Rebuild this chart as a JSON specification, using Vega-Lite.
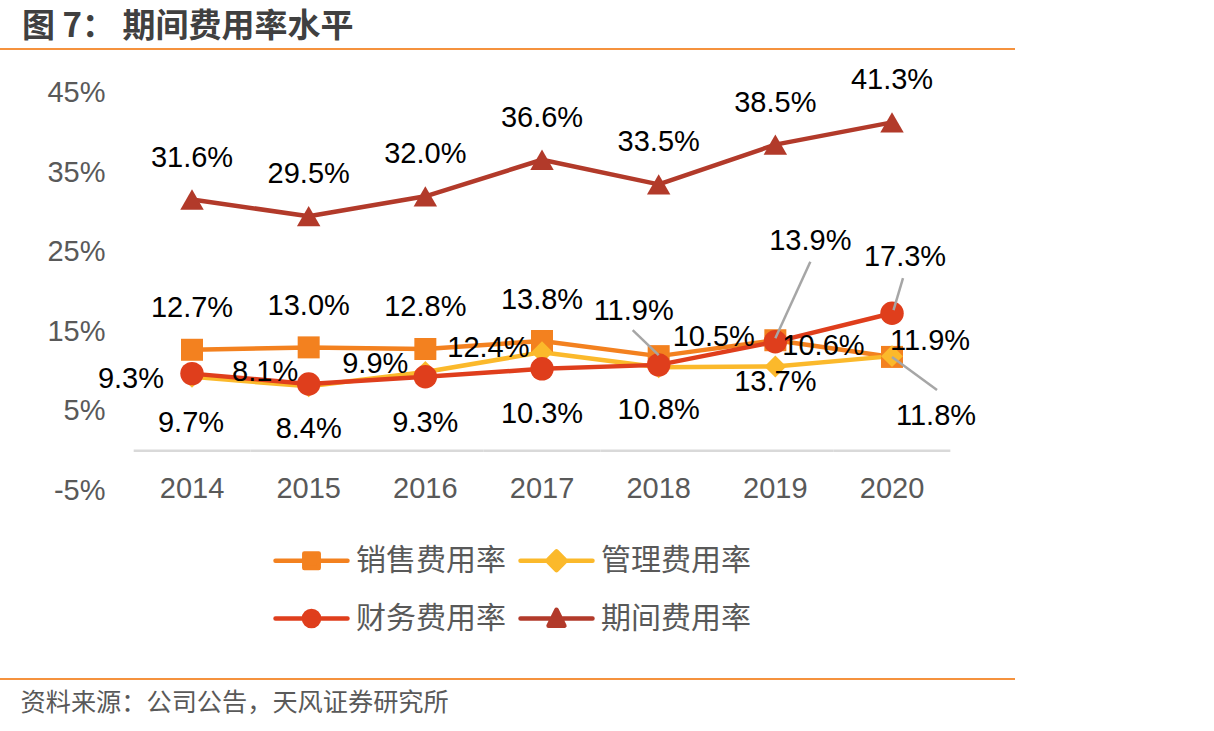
{
  "$schema": "https://vega.github.io/schema/vega-lite/v6.json",
  "width": 1015,
  "height": 630,
  "autosize": "none",
  "padding": {"left": 0, "top": 49, "right": 199, "bottom": 52},
  "background": "#ffffff",
  "config": {
    "view": {"stroke": "#F5923E", "strokeWidth": 2, "strokeDash": [1015, 630]},
    "font": "Liberation Sans"
  },
  "title": {
    "text": "图 7： 期间费用率水平",
    "anchor": "start",
    "frame": "group",
    "dx": 22,
    "offset": -11,
    "baseline": "middle",
    "font": "Noto Sans CJK SC",
    "fontSize": 33,
    "fontWeight": "bold",
    "color": "#404040"
  },
  "data": {
    "values": [
      {"year": "2014", "series": "销售费用率", "value": 12.7},
      {"year": "2015", "series": "销售费用率", "value": 13.0},
      {"year": "2016", "series": "销售费用率", "value": 12.8},
      {"year": "2017", "series": "销售费用率", "value": 13.8},
      {"year": "2018", "series": "销售费用率", "value": 11.9},
      {"year": "2019", "series": "销售费用率", "value": 13.9},
      {"year": "2020", "series": "销售费用率", "value": 11.8},
      {"year": "2014", "series": "管理费用率", "value": 9.3},
      {"year": "2015", "series": "管理费用率", "value": 8.1},
      {"year": "2016", "series": "管理费用率", "value": 9.9},
      {"year": "2017", "series": "管理费用率", "value": 12.4},
      {"year": "2018", "series": "管理费用率", "value": 10.5},
      {"year": "2019", "series": "管理费用率", "value": 10.6},
      {"year": "2020", "series": "管理费用率", "value": 11.9},
      {"year": "2014", "series": "财务费用率", "value": 9.7},
      {"year": "2015", "series": "财务费用率", "value": 8.4},
      {"year": "2016", "series": "财务费用率", "value": 9.3},
      {"year": "2017", "series": "财务费用率", "value": 10.3},
      {"year": "2018", "series": "财务费用率", "value": 10.8},
      {"year": "2019", "series": "财务费用率", "value": 13.7},
      {"year": "2020", "series": "财务费用率", "value": 17.3},
      {"year": "2014", "series": "期间费用率", "value": 31.6},
      {"year": "2015", "series": "期间费用率", "value": 29.5},
      {"year": "2016", "series": "期间费用率", "value": 32.0},
      {"year": "2017", "series": "期间费用率", "value": 36.6},
      {"year": "2018", "series": "期间费用率", "value": 33.5},
      {"year": "2019", "series": "期间费用率", "value": 38.5},
      {"year": "2020", "series": "期间费用率", "value": 41.3}
    ]
  },
  "encoding": {
    "x": {
      "field": "year",
      "type": "ordinal",
      "scale": {"type": "band", "paddingInner": 0, "paddingOuter": 0.85, "align": 0.674},
      "axis": {
        "orient": "bottom",
        "offset": -191,
        "domain": false,
        "ticks": false,
        "tickSize": 0,
        "grid": false,
        "labelAngle": 0,
        "labelPadding": 0,
        "labelBaseline": "middle",
        "labelFont": "Liberation Sans",
        "labelFontSize": 29,
        "labelColor": "#595959",
        "title": "资料来源：公司公告，天风证券研究所",
        "titleX": 20,
        "titleY": 214,
        "titleAlign": "left",
        "titleBaseline": "middle",
        "titleFont": "Noto Sans CJK SC",
        "titleFontSize": 25.2,
        "titleFontWeight": "normal",
        "titleColor": "#595959"
      }
    },
    "y": {
      "field": "value",
      "type": "quantitative",
      "scale": {"domain": [-28.71, 50.53], "nice": false, "zero": false},
      "axis": {
        "orient": "left",
        "offset": -105,
        "values": [-5, 5, 15, 25, 35, 45],
        "labelExpr": "datum.value + '%'",
        "domain": false,
        "ticks": false,
        "tickSize": 0,
        "grid": false,
        "labelPadding": 0,
        "labelBaseline": "middle",
        "labelFont": "Liberation Sans",
        "labelFontSize": 29,
        "labelColor": "#595959",
        "title": null
      }
    }
  },
  "layer": [
    {
      "transform": [{"filter": "datum.series === '期间费用率'"}],
      "mark": {"type": "rule", "color": "#D9D9D9", "strokeWidth": 2.5},
      "encoding": {
        "x": {"field": "year", "type": "ordinal", "bandPosition": 0},
        "x2": {"field": "year", "bandPosition": 1},
        "y": {"datum": 0}
      }
    },
    {
      "mark": {"type": "line", "strokeWidth": 4.5, "strokeJoin": "round"},
      "encoding": {
        "color": {
          "field": "series",
          "type": "nominal",
          "scale": {
            "domain": ["销售费用率", "管理费用率", "财务费用率", "期间费用率"],
            "range": ["#F3811F", "#FBB92B", "#DF3E1C", "#B23A2A"]
          },
          "legend": {
            "orient": "none",
            "legendX": 273,
            "legendY": 473,
            "columns": 2,
            "direction": "horizontal",
            "title": null,
            "symbolSize": 5184,
            "symbolStrokeWidth": 4.5,
            "labelFont": "Noto Sans CJK SC",
            "labelFontSize": 30,
            "labelColor": "#595959",
            "labelOffset": 6,
            "columnPadding": 12,
            "rowPadding": 4,
            "encode": {
              "symbols": {
                "update": {
                  "shape": {"signal": "datum.value === '销售费用率' ? 'M-1,0H1M-0.2,-0.2H0.2V0.2H-0.2Z' : datum.value === '管理费用率' ? 'M-1,0H1M0,-0.26L0.26,0L0,0.26L-0.26,0Z' : datum.value === '财务费用率' ? 'M-1,0H1M0.21,0A0.21,0.21,0,1,1,-0.21,0A0.21,0.21,0,1,1,0.21,0Z' : 'M-1,0H1M0,-0.24L0.22,0.2L-0.22,0.2Z'"},
                  "fill": {"scale": "color", "field": "value"},
                  "stroke": {"scale": "color", "field": "value"},
                  "strokeWidth": {"value": 4.5},
                  "strokeCap": {"value": "round"},
                  "strokeJoin": {"value": "round"},
                  "opacity": {"value": 1}
                }
              }
            }
          }
        }
      }
    },
    {
      "transform": [{"filter": "datum.series === '销售费用率'"}],
      "mark": {"type": "point", "shape": "square", "size": 484, "filled": true, "opacity": 1},
      "encoding": {"color": {"field": "series", "type": "nominal"}}
    },
    {
      "transform": [{"filter": "datum.series === '管理费用率'"}],
      "mark": {"type": "point", "shape": "diamond", "size": 480, "filled": true, "opacity": 1},
      "encoding": {"color": {"field": "series", "type": "nominal"}}
    },
    {
      "transform": [{"filter": "datum.series === '财务费用率'"}],
      "mark": {"type": "point", "shape": "circle", "size": 550, "filled": true, "opacity": 1},
      "encoding": {"color": {"field": "series", "type": "nominal"}}
    },
    {
      "transform": [{"filter": "datum.series === '期间费用率'"}],
      "mark": {"type": "point", "shape": "triangle-up", "size": 550, "filled": true, "opacity": 1},
      "encoding": {"color": {"field": "series", "type": "nominal"}}
    },
    {
      "transform": [{"filter": "(datum.series === '销售费用率' && datum.year >= '2018') || (datum.series === '财务费用率' && datum.year === '2020')"}],
      "mark": {
        "type": "rule",
        "color": "#A6A6A6",
        "strokeWidth": 2.5,
        "xOffset": {"expr": "datum.series === '财务费用率' ? 1.5 : 0"},
        "yOffset": {"expr": "datum.series === '财务费用率' ? -3 : datum.year === '2018' ? -1 : datum.year === '2019' ? -2 : 0"},
        "x2Offset": {"expr": "datum.series === '财务费用率' ? 11 : datum.year === '2018' ? -26 : datum.year === '2019' ? 35 : 45"},
        "y2Offset": {"expr": "datum.series === '财务费用率' ? -35 : datum.year === '2018' ? -26 : datum.year === '2019' ? -78.5 : 33"}
      },
      "encoding": {
        "x": {"field": "year", "type": "ordinal", "bandPosition": 0.5},
        "x2": {"field": "year", "bandPosition": 0.5},
        "y": {"field": "value", "type": "quantitative"},
        "y2": {"field": "value"}
      }
    },
    {
      "transform": [{"filter": "datum.series === '期间费用率'"}],
      "mark": {
        "type": "text",
        "font": "Liberation Sans",
        "fontSize": 29,
        "color": "#000000",
        "align": "center",
        "baseline": "middle",
        "dy": -42,
        "text": {"expr": "format(datum.value, '.1f') + '%'"}
      }
    },
    {
      "transform": [{"filter": "datum.series === '销售费用率'"}],
      "mark": {
        "type": "text",
        "font": "Liberation Sans",
        "fontSize": 29,
        "color": "#000000",
        "align": "center",
        "baseline": "middle",
        "dx": {"expr": "datum.year === '2018' ? -25 : datum.year === '2019' ? 35 : datum.year === '2020' ? 44 : 0"},
        "dy": {"expr": "datum.year === '2018' ? -45 : datum.year === '2019' ? -99 : datum.year === '2020' ? 59 : -41.5"},
        "text": {"expr": "format(datum.value, '.1f') + '%'"}
      }
    },
    {
      "transform": [{"filter": "datum.series === '管理费用率'"}],
      "mark": {
        "type": "text",
        "font": "Liberation Sans",
        "fontSize": 29,
        "color": "#000000",
        "baseline": "middle",
        "align": {"expr": "datum.year < '2018' ? 'right' : 'left'"},
        "dx": {"expr": "datum.year === '2014' ? -28 : datum.year === '2015' ? -10.5 : datum.year === '2016' ? -17 : datum.year === '2017' ? -12.5 : datum.year === '2018' ? 14 : datum.year === '2019' ? 7 : -2"},
        "dy": {"expr": "datum.year === '2014' ? 2.5 : datum.year === '2015' ? -14.5 : datum.year === '2016' ? -8 : datum.year === '2017' ? -4 : datum.year === '2018' ? -30 : datum.year === '2019' ? -20 : -15"},
        "text": {"expr": "format(datum.value, '.1f') + '%'"}
      }
    },
    {
      "transform": [{"filter": "datum.series === '财务费用率'"}],
      "mark": {
        "type": "text",
        "font": "Liberation Sans",
        "fontSize": 29,
        "color": "#000000",
        "align": "center",
        "baseline": "middle",
        "dx": {"expr": "datum.year === '2020' ? 13 : datum.year === '2014' ? -1 : 0"},
        "dy": {"expr": "datum.year === '2014' ? 49 : datum.year === '2015' ? 45 : datum.year === '2016' ? 46.5 : datum.year === '2017' ? 45.5 : datum.year === '2018' ? 45 : datum.year === '2019' ? 40.5 : -56.5"},
        "text": {"expr": "format(datum.value, '.1f') + '%'"}
      }
    }
  ]
}
